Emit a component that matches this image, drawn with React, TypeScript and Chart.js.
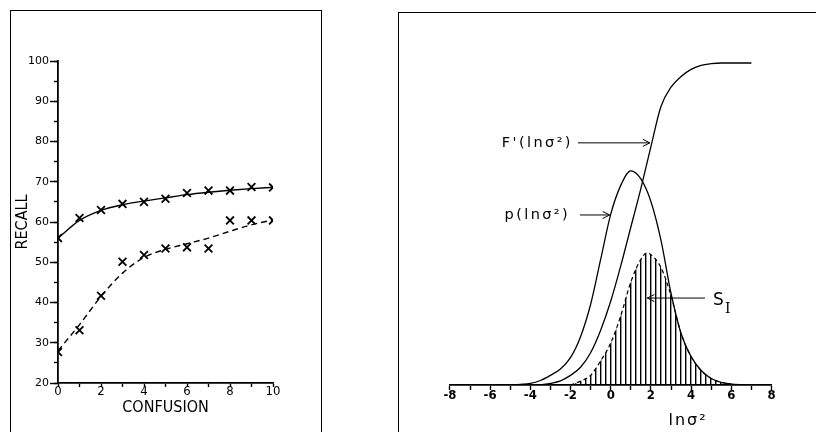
import React, { useEffect, useRef } from "react";
import { Chart, registerables } from "chart.js";

Chart.register(...registerables);

// ---------- Left panel data ----------
const confusion = [0, 1, 2, 3, 4, 5, 6, 7, 8, 9, 10];
const recallSolidMarks = [56, 61, 63, 64.5, 65, 65.8, 67.2, 67.8, 67.8, 68.7, 68.6];
const recallSolidFit = [56, 60.4, 62.9, 64.3, 65.2, 66.0, 66.8, 67.4, 67.9, 68.3, 68.6];
const recallDashedMarks = [27.7, 33.1, 41.7, 50.1, 51.8, 53.4, 53.7, 53.4, 60.4, 60.4, 60.4];
const recallDashedFit = [28, 34.5, 41.5, 47.3, 51.2, 53.2, 54.6, 56.0, 57.7, 59.3, 60.5];

// ---------- Right panel data ----------
const lnSigmaF = [-3.5, -3, -2.5, -2, -1.5, -1, -0.5, 0, 0.5, 1, 1.5, 2, 2.5, 3, 3.5, 4, 4.5, 5, 5.5, 6, 6.5, 7];
const fPrime = [0, 0.005, 0.013, 0.03, 0.055, 0.1, 0.17, 0.26, 0.37, 0.49, 0.61, 0.74, 0.865, 0.925, 0.958, 0.98, 0.993, 0.998, 1, 1, 1, 1];

const lnSigmaP = [-5, -4.5, -4, -3.5, -3, -2.5, -2, -1.5, -1, -0.5, 0, 0.5, 1, 1.5, 2, 2.5, 3, 3.5, 4, 4.5, 5, 5.5, 6, 6.5, 7];
const pDensity = [0, 0.002, 0.005, 0.014, 0.03, 0.05, 0.085, 0.15, 0.25, 0.39, 0.53, 0.62, 0.665, 0.64, 0.57, 0.45, 0.285, 0.16, 0.088, 0.045, 0.02, 0.008, 0.003, 0.001, 0];

const lnSigmaS = [-2, -1.5, -1, -0.5, 0, 0.5, 1, 1.5, 1.8, 2, 2.5, 3, 3.5, 4, 4.5, 5, 5.5, 6];
const sI = [0, 0.012, 0.03, 0.075, 0.13, 0.215, 0.32, 0.39, 0.41, 0.405, 0.365, 0.278, 0.16, 0.088, 0.045, 0.02, 0.008, 0.003];

// annotation anchors (data coordinates of the right panel)
const notes = {
  fText: { text: "F'(lnσ²)", x: -1.88, y: 0.752 },
  fArrow: { from: -1.63, to: 1.95, y: 0.752 },
  pText: { text: "p(lnσ²)", x: -2.02, y: 0.528 },
  pArrow: { from: -1.53, to: -0.05, y: 0.528 },
  sArrow: { from: 4.69, to: 1.82, y: 0.27 },
  sText: { x: 5.09, y: 0.262 },
  axisTitle: { text: "lnσ²", x: 3.85, y: -0.11 },
};

const W = 816;
const H = 432;
const BLACK = "#000";
const NARROW = "'DejaVu Sans Condensed', 'Liberation Sans Narrow', 'DejaVu Sans', sans-serif";
const SANS = "'DejaVu Sans', sans-serif";

const xy = (xs: number[], ys: number[]) => xs.map((x, i) => ({ x, y: ys[i] }));

function arrow(ctx: CanvasRenderingContext2D, x1: number, x2: number, y: number) {
  ctx.save();
  ctx.strokeStyle = BLACK;
  ctx.lineWidth = 1;
  ctx.beginPath();
  ctx.moveTo(x1, y);
  ctx.lineTo(x2, y);
  const dir = x2 > x1 ? -1 : 1;
  ctx.moveTo(x2 + dir * 7, y - 3.5);
  ctx.lineTo(x2, y);
  ctx.lineTo(x2 + dir * 7, y + 3.5);
  ctx.stroke();
  ctx.restore();
}

export default function App() {
  const leftRef = useRef<HTMLCanvasElement>(null);
  const rightRef = useRef<HTMLCanvasElement>(null);

  useEffect(() => {
    const lc = leftRef.current!;
    const rc = rightRef.current!;

    const markerSet = (ys: number[]) => ({
      data: xy(confusion, ys),
      showLine: false,
      pointStyle: "crossRot",
      pointRadius: 5.5,
      pointBorderWidth: 1.8,
      pointBorderColor: BLACK,
      borderColor: BLACK,
    });

    const left = new Chart(lc, {
      type: "line",
      data: {
        datasets: [
          {
            data: xy(confusion, recallSolidFit),
            borderColor: BLACK,
            borderWidth: 1.4,
            pointRadius: 0,
            cubicInterpolationMode: "monotone",
            fill: false,
          },
          markerSet(recallSolidMarks),
          {
            data: xy(confusion, recallDashedFit),
            borderColor: BLACK,
            borderWidth: 1.4,
            borderDash: [6, 4],
            pointRadius: 0,
            cubicInterpolationMode: "monotone",
            fill: false,
          },
          markerSet(recallDashedMarks),
        ],
      },
      options: {
        responsive: false,
        animation: false,
        events: [],
        layout: { padding: { left: 0, top: 61, right: W - 273, bottom: 0 } },
        plugins: { legend: { display: false }, tooltip: { enabled: false } },
        scales: {
          x: {
            type: "linear",
            min: 0,
            max: 10,
            afterFit: (s: any) => {
              s.height = H - 383;
            },
            grid: { drawOnChartArea: false, tickLength: 4, tickColor: BLACK, tickWidth: 1.4 },
            border: { display: true, color: BLACK, width: 1.8 },
            ticks: {
              stepSize: 1,
              autoSkip: false,
              maxRotation: 0,
              color: BLACK,
              padding: -2,
              font: { family: NARROW, size: 13, lineHeight: 1 },
              callback: (v: any) => (Number(v) % 2 === 0 ? String(v) : ""),
            },
            title: {
              display: true,
              text: "CONFUSION",
              color: BLACK,
              font: { family: NARROW, size: 16, lineHeight: 1.2 },
              padding: { top: 0, bottom: 14.4 },
            },
          },
          y: {
            type: "linear",
            min: 20,
            max: 100,
            position: "left",
            weight: 1,
            afterFit: (s: any) => {
              s.width = 58;
            },
            grid: { drawOnChartArea: false, tickLength: 8, tickColor: BLACK, tickWidth: 1.4 },
            border: { display: true, color: BLACK, width: 1.8 },
            ticks: {
              stepSize: 10,
              color: BLACK,
              padding: 1,
              font: { family: SANS, size: 11 },
            },
            title: {
              display: true,
              text: "RECALL",
              color: BLACK,
              font: { family: NARROW, size: 16, lineHeight: 1.2 },
              padding: { top: 13.4, bottom: 0 },
            },
          },
          y2: {
            type: "linear",
            min: 20,
            max: 100,
            position: "left",
            weight: 0,
            afterFit: (s: any) => {
              s.width = 0;
            },
            grid: { drawOnChartArea: false, tickLength: 4, tickColor: BLACK, tickWidth: 1.4 },
            border: { display: false },
            ticks: { stepSize: 5, display: false },
          },
        },
      },
    } as any);

    // hatch pattern for S_I area
    const pc = document.createElement("canvas");
    pc.width = 5;
    pc.height = 5;
    const pctx = pc.getContext("2d")!;
    pctx.fillStyle = "#000";
    pctx.fillRect(0, 0, 1, 5);
    pctx.fillStyle = "rgba(0,0,0,0.4)";
    pctx.fillRect(1, 0, 1, 5);
    const hatch = rc.getContext("2d")!.createPattern(pc, "repeat");

    const notesPlugin = {
      id: "notes",
      afterDatasetsDraw(chart: any) {
        const { ctx } = chart;
        const xs = chart.scales.x;
        const ys = chart.scales.y;
        const px = (v: number) => xs.getPixelForValue(v);
        const py = (v: number) => ys.getPixelForValue(v);
        ctx.save();
        ctx.fillStyle = BLACK;
        ctx.textBaseline = "middle";
        (ctx as any).letterSpacing = "2.4px";
        ctx.font = `14.5px ${SANS}`;
        ctx.textAlign = "right";
        ctx.fillText(notes.fText.text, px(notes.fText.x), py(notes.fText.y));
        ctx.fillText(notes.pText.text, px(notes.pText.x), py(notes.pText.y));
        (ctx as any).letterSpacing = "0px";
        arrow(ctx, px(notes.fArrow.from), px(notes.fArrow.to), py(notes.fArrow.y));
        arrow(ctx, px(notes.pArrow.from), px(notes.pArrow.to), py(notes.pArrow.y));
        arrow(ctx, px(notes.sArrow.from), px(notes.sArrow.to), py(notes.sArrow.y));
        // S with subscript I
        ctx.textAlign = "left";
        ctx.font = `17px ${SANS}`;
        const sx = px(notes.sText.x);
        const sy = py(notes.sText.y);
        ctx.fillText("S", sx, sy);
        ctx.font = `14px 'DejaVu Serif', serif`;
        ctx.fillText("I", sx + 12, sy + 9);
        // axis title
        (ctx as any).letterSpacing = "2px";
        ctx.font = `16px ${SANS}`;
        ctx.textAlign = "center";
        ctx.fillText(notes.axisTitle.text, px(notes.axisTitle.x), py(notes.axisTitle.y));
        ctx.restore();
      },
    };

    const right = new Chart(rc, {
      type: "line",
      data: {
        datasets: [
          {
            data: xy(lnSigmaS, sI),
            borderColor: BLACK,
            borderWidth: 1.2,
            borderDash: [4, 3],
            pointRadius: 0,
            cubicInterpolationMode: "monotone",
            fill: "origin",
            backgroundColor: hatch,
          },
          {
            data: xy(lnSigmaP, pDensity),
            borderColor: BLACK,
            borderWidth: 1.3,
            pointRadius: 0,
            cubicInterpolationMode: "monotone",
            fill: false,
          },
          {
            data: xy(lnSigmaF, fPrime),
            borderColor: BLACK,
            borderWidth: 1.3,
            pointRadius: 0,
            cubicInterpolationMode: "monotone",
            fill: false,
          },
        ],
      },
      options: {
        responsive: false,
        animation: false,
        events: [],
        layout: { padding: { left: 449.9, top: 385 - 1.1 * 322, right: W - 771.5, bottom: 0 } },
        plugins: { legend: { display: false }, tooltip: { enabled: false } },
        scales: {
          x: {
            type: "linear",
            min: -8,
            max: 8,
            afterFit: (s: any) => {
              s.height = H - 385;
            },
            grid: { drawOnChartArea: false, tickLength: 5, tickColor: BLACK, tickWidth: 1.4 },
            border: { display: true, color: BLACK, width: 1.8 },
            ticks: {
              stepSize: 1,
              autoSkip: false,
              maxRotation: 0,
              color: BLACK,
              padding: -1,
              font: { family: NARROW, size: 13, weight: "bold", lineHeight: 1 },
              callback: (v: any) => (Number(v) % 2 === 0 ? String(v) : ""),
            },
          },
          y: { type: "linear", display: false, min: 0, max: 1.1 },
        },
      },
      plugins: [notesPlugin],
    } as any);

    return () => {
      left.destroy();
      right.destroy();
    };
  }, []);

  const canvasStyle: React.CSSProperties = { position: "absolute", left: 0, top: 0 };

  return (
    <div
      style={{
        position: "fixed",
        left: 0,
        top: 0,
        width: W,
        height: H,
        overflow: "hidden",
        background: "#fff",
      }}
    >
      <div
        style={{
          position: "absolute",
          left: 10,
          top: 10,
          width: 312,
          height: 450,
          border: "1px solid #000",
          boxSizing: "border-box",
        }}
      />
      <div
        style={{
          position: "absolute",
          left: 398,
          top: 12,
          width: 440,
          height: 450,
          border: "1px solid #000",
          boxSizing: "border-box",
        }}
      />
      <canvas ref={leftRef} width={W} height={H} style={canvasStyle} />
      <canvas ref={rightRef} width={W} height={H} style={canvasStyle} />
    </div>
  );
}
